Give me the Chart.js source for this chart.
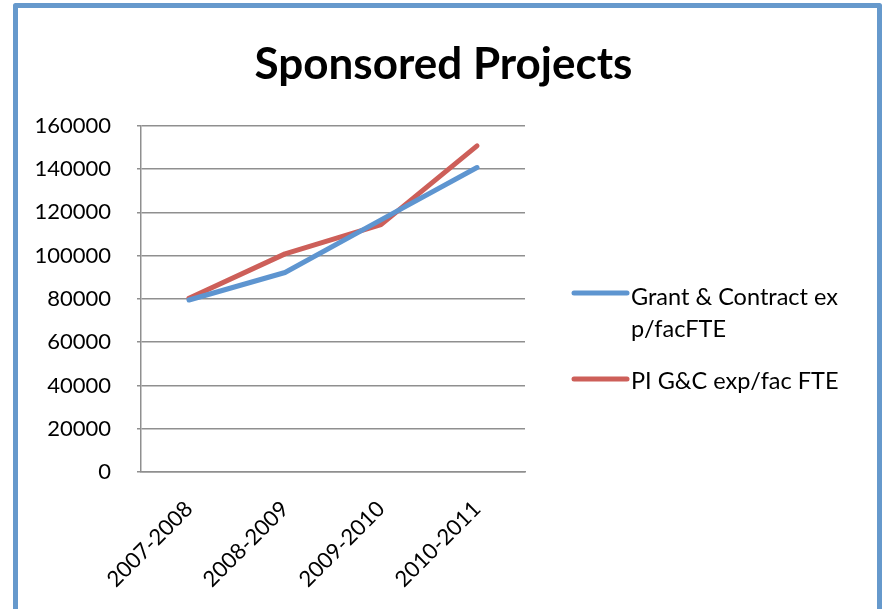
<!DOCTYPE html>
<html>
<head>
<meta charset="utf-8">
<script src="https://cdn.jsdelivr.net/npm/chart.js@4.4.1/dist/chart.umd.min.js"></script>
<style>
  html, body { margin: 0; padding: 0; background: #ffffff; }
  #wrap { position: relative; width: 887px; height: 609px; }
</style>
</head>
<body>
<div id="wrap"><canvas id="c" width="887" height="609"></canvas></div>
<script>
const categories = ["2007-2008", "2008-2009", "2009-2010", "2010-2011"];
const grantContract = [79500, 92200, 116500, 140700];
const piGC = [80300, 100800, 114300, 150700];
const seriesNames = ["Grant & Contract exp/facFTE", "PI G&C exp/fac FTE"];
const legendLines = [["Grant & Contract ex", "p/facFTE"], ["PI G&C exp/fac FTE"]];
const chartTitle = "Sponsored Projects";

const FONT = "Lato, 'Open Sans', sans-serif";
const BLUE = "#5E95D0";
const RED = "#CD5F59";
const GRID = "#8f8f8f";

const frame = {
  id: 'frame',
  afterDraw(chart) {
    const ctx = chart.ctx;
    ctx.save();
    ctx.strokeStyle = "#6699CC";
    ctx.lineWidth = 5;
    ctx.lineJoin = 'round';
    ctx.beginPath();
    ctx.moveTo(15.5, 620);
    ctx.lineTo(15.5, 5.5);
    ctx.lineTo(879.5, 5.5);
    ctx.lineTo(879.5, 620);
    ctx.stroke();
    ctx.restore();
  }
};

const sideLegend = {
  id: 'sideLegend',
  afterDraw(chart) {
    const ctx = chart.ctx;
    ctx.save();
    const lineY = [293, 379];
    const baseY = [305, 389];
    chart.data.datasets.forEach((ds, i) => {
      ctx.strokeStyle = ds.borderColor;
      ctx.lineWidth = 5;
      ctx.lineCap = 'round';
      ctx.beginPath();
      ctx.moveTo(574, lineY[i]);
      ctx.lineTo(627, lineY[i]);
      ctx.stroke();
      ctx.fillStyle = "#000000";
      ctx.font = "23.5px " + FONT;
      ctx.textBaseline = 'alphabetic';
      ctx.textAlign = 'left';
      legendLines[i].forEach((t, j) => {
        ctx.fillText(t, 631, baseY[i] + j * 32);
      });
    });
    ctx.restore();
  }
};

new Chart(document.getElementById('c'), {
  type: 'line',
  data: {
    labels: categories,
    datasets: [
      { label: seriesNames[0], data: grantContract, borderColor: BLUE, backgroundColor: BLUE,
        borderWidth: 5, pointRadius: 0, tension: 0, borderCapStyle: 'round', borderJoinStyle: 'round', yAxisID: 'y' },
      { label: seriesNames[1], data: piGC, borderColor: RED, backgroundColor: RED,
        borderWidth: 5, pointRadius: 0, tension: 0, borderCapStyle: 'round', borderJoinStyle: 'round', yAxisID: 'y' }
    ]
  },
  options: {
    responsive: false,
    animation: false,
    devicePixelRatio: 1,
    layout: { padding: { left: 0, right: 0, top: 0, bottom: 0 } },
    plugins: {
      legend: { display: false },
      tooltip: { enabled: false },
      title: {
        display: true,
        text: chartTitle,
        color: "#000000",
        font: { family: FONT, size: 44, weight: 'bold', lineHeight: 1.2 },
        padding: { top: 38, bottom: 35 },
        align: 'center'
      }
    },
    scales: {
      x: {
        offset: true,
        grid: { display: false },
        border: { display: true, color: GRID, width: 1.5 },
        ticks: { color: "#000000", font: { family: FONT, size: 22 }, maxRotation: 45, minRotation: 45, padding: 16 },
        afterFit(scale) { scale.height = 137; }
      },
      y: {
        min: 0, max: 160000,
        ticks: { stepSize: 20000, color: "#000000", font: { family: FONT, size: 22 }, padding: 26,
                 callback: (v) => String(v) },
        grid: { color: GRID, lineWidth: 1.5, tickLength: 4, drawTicks: true },
        border: { display: true, color: GRID, width: 1.5 },
        afterFit(scale) { scale.width = 141; }
      },
      side: {
        position: 'right',
        display: true,
        grid: { display: false, drawTicks: false },
        border: { display: false },
        ticks: { display: false },
        afterFit(scale) { scale.width = 362; }
      }
    }
  },
  plugins: [frame, sideLegend]
});
</script>
</body>
</html>
